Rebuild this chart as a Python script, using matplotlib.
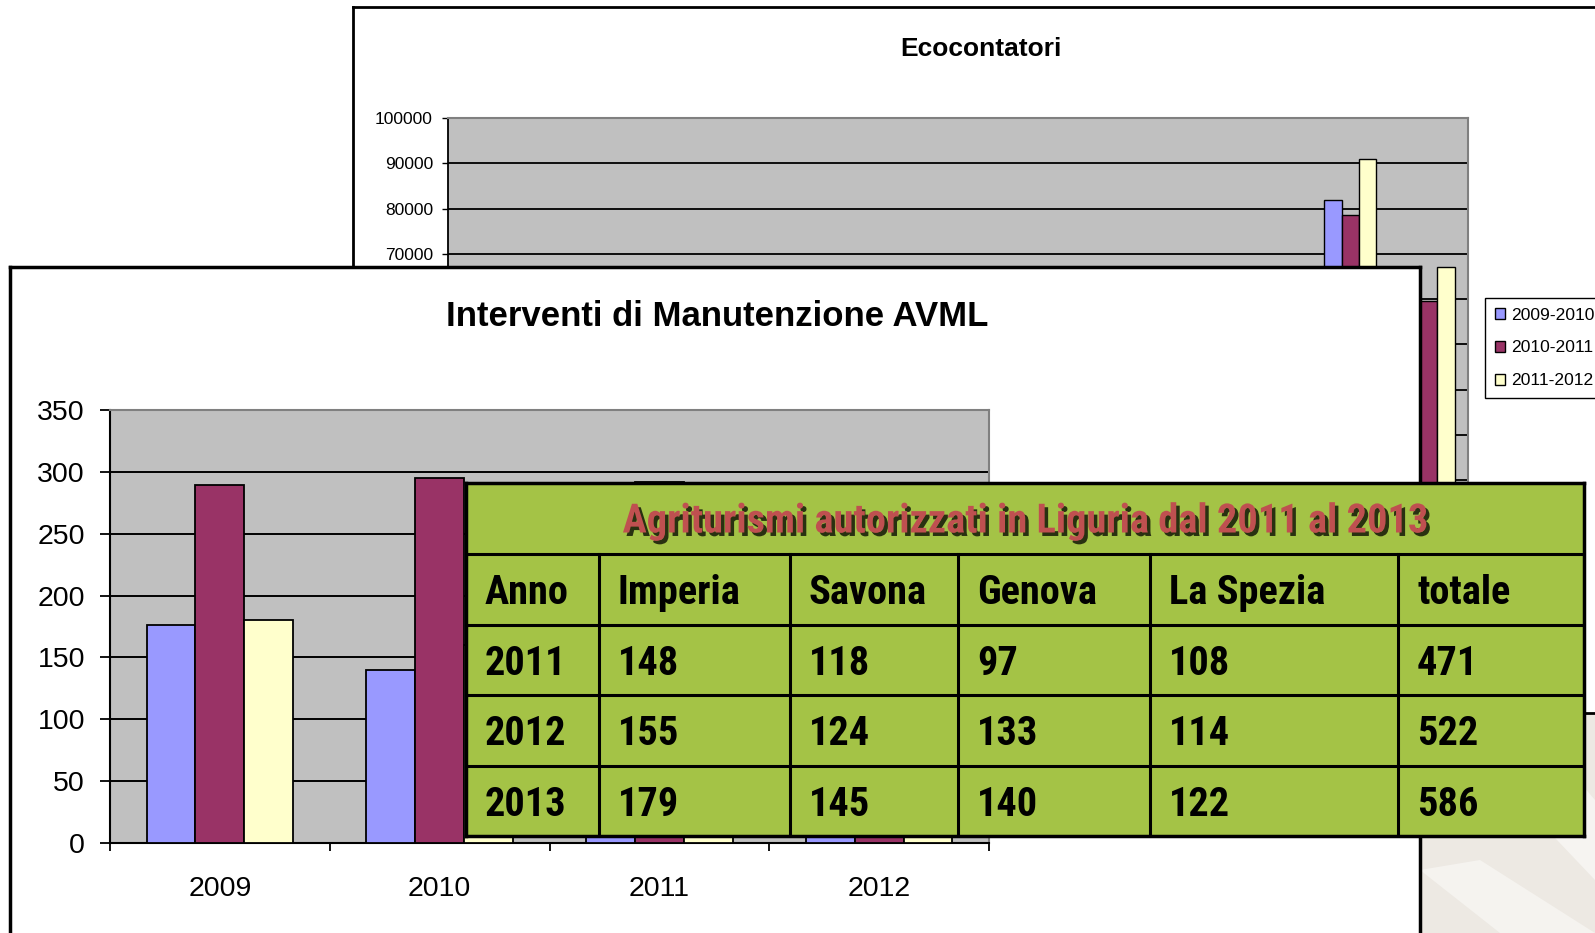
import os
import numpy as np
import matplotlib
matplotlib.use('Agg')
import matplotlib.pyplot as plt
from matplotlib import font_manager as fm
from matplotlib import patheffects as pe
from matplotlib.patches import Rectangle, Polygon

plt.rcParams['font.family'] = ['Liberation Sans', 'DejaVu Sans']

# --- data -------------------------------------------------------------
# Ecocontatori (back chart): 13 categories, only the last two are visible
eco_series = ['2009-2010', '2010-2011', '2011-2012']
eco_n = 13
eco_2009_10 = [np.nan] * 11 + [82000, np.nan]
eco_2010_11 = [np.nan] * 11 + [78500, 59500]
eco_2011_12 = [np.nan] * 11 + [91000, 67000]

# Interventi di Manutenzione AVML (front chart)
avml_years = ['2009', '2010', '2011', '2012']
avml_s1 = [176, 140, 150, 145]
avml_s2 = [289, 295, 292, 270]
avml_s3 = [180, 160, 170, 175]

# Agriturismi table
tab_title = 'Agriturismi autorizzati in Liguria dal 2011 al 2013'
tab_cols = ['Anno', 'Imperia', 'Savona', 'Genova', 'La Spezia', 'totale']
tab_anni = ['2011', '2012', '2013']
tab_imperia = [148, 155, 179]
tab_savona = [118, 124, 145]
tab_genova = [97, 133, 140]
tab_laspezia = [108, 114, 122]
tab_totale = [471, 522, 586]

colors = ['#9999FF', '#993366', '#FFFFCC']
W, H = 1595, 933


def box(x0, y0, x1, y1):
    """pixel box (top-left origin) -> figure fraction rect"""
    return [x0 / W, 1 - y1 / H, (x1 - x0) / W, (y1 - y0) / H]


def pick_narrow_bold():
    prefs = ['liberationsansnarrow-bold.ttf', 'arialnb.ttf', 'robotocondensed-bold.ttf',
             'opensans_condensed-bold.ttf', 'opensanscondensed-bold.ttf',
             'notosans-condensedbold.ttf', 'dejavusanscondensed-bold.ttf']
    files = {os.path.basename(f.fname).lower(): f.fname for f in fm.fontManager.ttflist}
    for p in prefs:
        if p in files:
            return files[p]
    return fm.findfont(fm.FontProperties(family='Liberation Sans', weight='bold'))


fig = plt.figure(figsize=(W / 100, H / 100), dpi=100)
renderer = fig.canvas.get_renderer()

# slide background watermark (bottom right)
ax_bg = fig.add_axes([0, 0, 1, 1])
ax_bg.set_xlim(0, W)
ax_bg.set_ylim(H, 0)
ax_bg.axis('off')
ax_bg.add_patch(Rectangle((1420, 713), 200, 230, color='#EDE9E3', lw=0))
ax_bg.add_patch(Polygon([[1440, 713], [1520, 713], [1595, 800], [1595, 880], [1500, 780]],
                        color='#F6F4F1', lw=0))
ax_bg.add_patch(Polygon([[1420, 870], [1480, 860], [1595, 933], [1500, 933]],
                        color='#F5F3EF', lw=0))
ax_bg.set_zorder(0)

# --- back panel: Ecocontatori ----------------------------------------
ax_bp = fig.add_axes(box(353, 7, 1750, 713))
ax_bp.set_xticks([])
ax_bp.set_yticks([])
for s in ax_bp.spines.values():
    s.set_linewidth(2)
ax_bp.set_zorder(1)

ax_b = fig.add_axes(box(448, 118, 1468, 571))
ax_b.set_zorder(2)
ax_b.set_facecolor('#C0C0C0')
x = np.arange(eco_n)
bw = 1 / 4.5
handles = []
for k, vals in enumerate([eco_2009_10, eco_2010_11, eco_2011_12]):
    h = ax_b.bar(x + (k - 1) * bw, vals, bw, color=colors[k], edgecolor='black', linewidth=1, zorder=3)
    handles.append(h)
ax_b.set_xlim(-0.5, eco_n - 0.5)
ax_b.set_ylim(0, 100000)
ax_b.set_yticks(np.arange(0, 100001, 10000))
ax_b.set_xticks([])
ax_b.yaxis.grid(True, color='black', linewidth=1.3)
ax_b.set_axisbelow(True)
ax_b.tick_params(axis='y', labelsize=12.5, length=4.3, width=1, pad=6.5)
for side in ['top', 'right']:
    ax_b.spines[side].set_color('#808080')
    ax_b.spines[side].set_linewidth(1.5)
ax_b.spines['left'].set_linewidth(1.3)
leg = ax_b.legend(handles, eco_series, loc='upper left', bbox_to_anchor=(1485 / W, 1 - 298 / H),
                  bbox_transform=fig.transFigure, fontsize=12.6, frameon=True, fancybox=False,
                  edgecolor='black', framealpha=1, borderpad=0.55, borderaxespad=0,
                  handlelength=0.6, handleheight=0.6, handletextpad=0.35, labelspacing=1.02)
leg.get_frame().set_linewidth(1)
fig.text(981 / W, 1 - 49 / H, 'Ecocontatori', ha='center', va='center',
         fontsize=19, fontweight='bold', zorder=3)

# --- front panel: Interventi di Manutenzione AVML ---------------------
ax_fp = fig.add_axes(box(10, 267, 1420, 1100))
ax_fp.set_xticks([])
ax_fp.set_yticks([])
for s in ax_fp.spines.values():
    s.set_linewidth(2.5)
ax_fp.set_zorder(3)
fig.text(717 / W, 1 - 316 / H, 'Interventi di Manutenzione AVML', ha='center',
         va='center', fontsize=25, fontweight='bold', zorder=5)

ax_f = fig.add_axes(box(110, 410, 989, 843))
ax_f.set_zorder(4)
ax_f.set_facecolor('#C0C0C0')
xf = np.arange(len(avml_years))
for k, vals in enumerate([avml_s1, avml_s2, avml_s3]):
    ax_f.bar(xf + (k - 1) * bw, vals, bw, color=colors[k], edgecolor='black', linewidth=1.3, zorder=3)
ax_f.set_xlim(-0.5, len(avml_years) - 0.5)
ax_f.set_ylim(0, 350)
ax_f.set_yticks(np.arange(0, 351, 50))
ax_f.set_xticks(np.arange(len(avml_years) + 1) - 0.5)
ax_f.set_xticklabels([])
ax_f.set_xticks(xf, minor=True)
ax_f.set_xticklabels(avml_years, minor=True)
ax_f.yaxis.grid(True, color='black', linewidth=1.4)
ax_f.set_axisbelow(True)
ax_f.tick_params(axis='y', labelsize=20.5, length=7, width=1.3, pad=11)
ax_f.tick_params(axis='x', which='major', length=6, width=1.3)
ax_f.tick_params(axis='x', which='minor', length=0, labelsize=20.5, pad=24)
for side in ['top', 'right']:
    ax_f.spines[side].set_color('#808080')
    ax_f.spines[side].set_linewidth(1.5)
ax_f.spines['left'].set_linewidth(1.5)
ax_f.spines['bottom'].set_linewidth(1.5)

# --- table -----------------------------------------------------------
narrow = fm.FontProperties(fname=pick_narrow_bold())
probe = fig.text(0, 0, tab_title, fontproperties=narrow, fontsize=28)
tw = probe.get_window_extent(renderer).width
probe.remove()
title_fs = 28 * 807 / tw
cell_fs = title_fs

col_edges = [466, 599, 790, 958, 1150, 1398, 1584]
row_edges = [483, 554, 624.5, 695, 765.5, 836]
ax_t = fig.add_axes(box(466, 483, 1584, 836))
ax_t.set_zorder(6)
ax_t.set_xlim(466, 1584)
ax_t.set_ylim(836, 483)
ax_t.set_facecolor('#A4C346')
ax_t.set_xticks([])
ax_t.set_yticks([])
for s in ax_t.spines.values():
    s.set_linewidth(2.5)
for yv in row_edges[1:-1]:
    ax_t.axhline(yv, color='black', linewidth=2.2)
for xv in col_edges[1:-1]:
    ax_t.plot([xv, xv], [row_edges[1], row_edges[-1]], color='black', linewidth=2.2)

ax_t.text((col_edges[0] + col_edges[-1]) / 2, (row_edges[0] + row_edges[1]) / 2 + 3, tab_title,
          ha='center', va='center', fontproperties=narrow, fontsize=title_fs, color='#BF5050',
          path_effects=[pe.SimplePatchShadow(offset=(2.5, -2.5), shadow_rgbFace='black', alpha=0.75),
                        pe.Normal()])
table_rows = [tab_cols] + [[a, str(i), str(s), str(g), str(l), str(t)] for a, i, s, g, l, t in
                           zip(tab_anni, tab_imperia, tab_savona, tab_genova, tab_laspezia, tab_totale)]
for r, row in enumerate(table_rows):
    yc = (row_edges[r + 1] + row_edges[r + 2]) / 2 + 4
    for c, txt in enumerate(row):
        ax_t.text(col_edges[c] + 19, yc, txt, ha='left', va='center',
                  fontproperties=narrow, fontsize=cell_fs, color='black')

fig.savefig('out.png', dpi=100)
